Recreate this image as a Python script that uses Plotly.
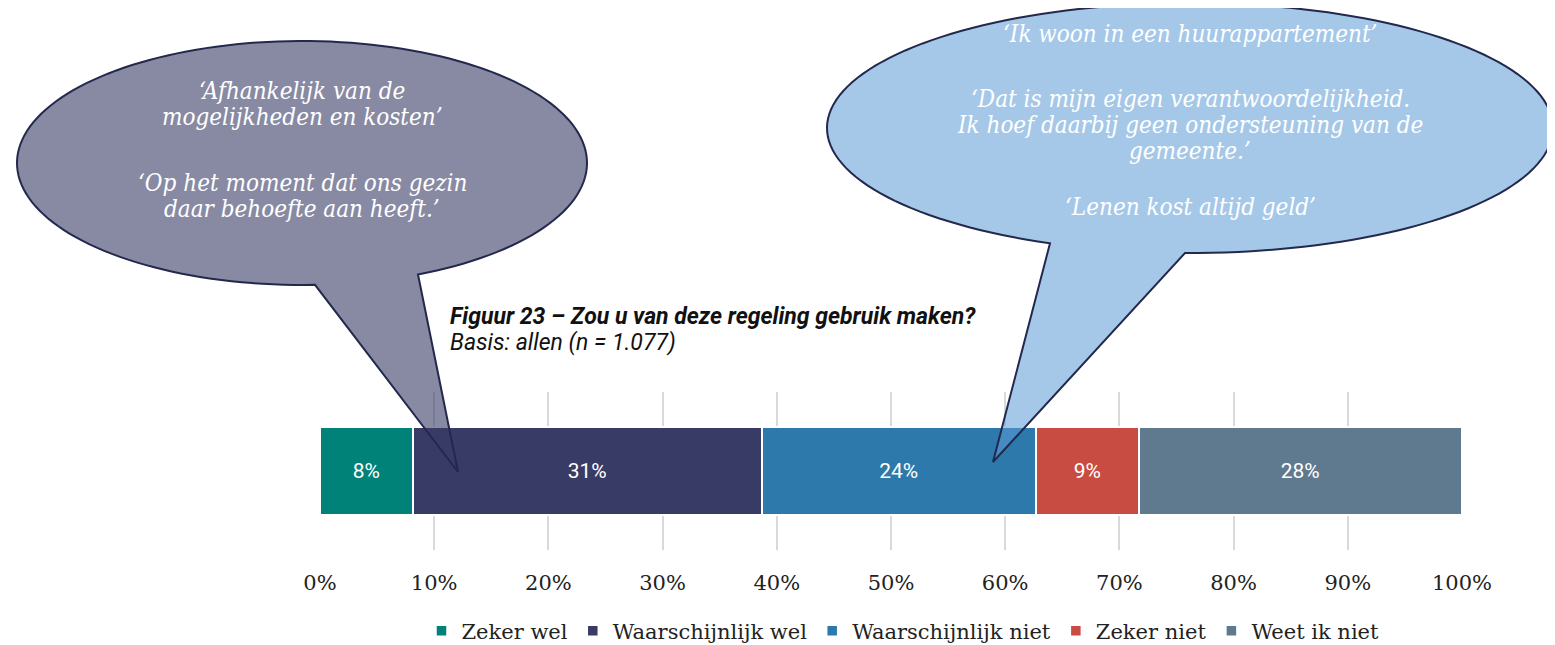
import math
import plotly.graph_objects as go

# page body has an 8px margin: figure is sized to fit the window exactly
OFF = 8
W, H = 1555 - OFF, 645 - OFF

categories = ["Zeker wel", "Waarschijnlijk wel", "Waarschijnlijk niet", "Zeker niet", "Weet ik niet"]
values = [8.1, 30.6, 24.0, 9.0, 28.3]
colors = ["#008278", "#393b67", "#2e79ab", "#c84c42", "#5f7a8e"]
tick_vals = [0, 10, 20, 30, 40, 50, 60, 70, 80, 90, 100]
tick_text = [f"{v}%" for v in tick_vals]

title_text = "<b><i>Figuur 23 – Zou u van deze regeling gebruik maken?</i></b>"
subtitle_text = "<i>Basis: allen (n = 1.077)</i>"
quote_left = ["‘Afhankelijk van de", "mogelijkheden en kosten’",
              "‘Op het moment dat ons gezin", "daar behoefte aan heeft.’"]
quote_left_y = [91, 117, 183, 209]
quote_right = ["‘Ik woon in een huurappartement’",
               "‘Dat is mijn eigen verantwoordelijkheid.",
               "Ik hoef daarbij geen ondersteuning van de", "gemeente.’",
               "‘Lenen kost altijd geld’"]
quote_right_y = [34, 99, 125, 151, 207]

QUOTE_FONT = dict(family="DejaVu Serif Condensed, DejaVu Serif", size=24, color="white")


def px(x):
    return (x - OFF) / W


def py(y):
    return 1 - (y - OFF) / H


def bubble_path(cx, cy, rx, ry, xl, xr, tip, n=160):
    tl = math.acos(max(-1, min(1, (xl - cx) / rx)))
    tr = math.acos(max(-1, min(1, (xr - cx) / rx)))
    if tl > tr:
        tl -= 2 * math.pi
    pts = []
    for i in range(n + 1):
        t = tr + (tl - tr) * i / n
        pts.append((cx + rx * math.cos(t), cy + ry * math.sin(t)))
    pts.append(tip)
    return "M " + " L ".join(f"{px(x):.5f},{py(y):.5f}" for x, y in pts) + " Z"


fig = go.Figure()
for cat, val, col in zip(categories, values, colors):
    fig.add_trace(go.Bar(
        y=[""], x=[val], name=cat, orientation="h",
        marker=dict(color=col, line=dict(color="white", width=2.5)),
        width=0.56,
        text=[f"{round(val)}%"], textposition="inside", insidetextanchor="middle",
        textangle=0,
        insidetextfont=dict(family="Roboto", size=21, color="white"),
        hoverinfo="skip",
    ))

shapes = [
    dict(type="path", xref="paper", yref="paper",
         path=bubble_path(302, 163, 285, 122, 315, 418, (458, 472)),
         fillcolor="rgba(56,60,102,0.6)", line=dict(color="#23284d", width=2),
         layer="above"),
    dict(type="path", xref="paper", yref="paper",
         path=bubble_path(1190, 128, 363, 125, 1050, 1185, (993, 462)),
         fillcolor="rgba(91,155,213,0.55)", line=dict(color="#23284d", width=2),
         layer="above"),
]

annotations = []
for line, yc in zip(quote_left, quote_left_y):
    annotations.append(dict(x=px(302), y=py(yc), xref="paper", yref="paper", showarrow=False,
                            text="<i>" + line + "</i>", align="center",
                            font=QUOTE_FONT, xanchor="center", yanchor="middle"))
for line, yc in zip(quote_right, quote_right_y):
    annotations.append(dict(x=px(1190), y=py(yc), xref="paper", yref="paper", showarrow=False,
                            text="<i>" + line + "</i>", align="center",
                            font=QUOTE_FONT, xanchor="center", yanchor="middle"))
annotations += [
    dict(x=px(448), y=py(316), xref="paper", yref="paper", showarrow=False,
         text=title_text, align="left", xanchor="left", yanchor="middle",
         font=dict(family="Roboto", size=23, color="#111111")),
    dict(x=px(448), y=py(342), xref="paper", yref="paper", showarrow=False,
         text=subtitle_text, align="left", xanchor="left", yanchor="middle",
         font=dict(family="Roboto", size=23, color="#111111")),
]

fig.update_layout(
    width=W, height=H,
    margin=dict(l=0, r=0, t=0, b=0, autoexpand=False),
    paper_bgcolor="white", plot_bgcolor="white",
    barmode="stack", bargap=0,
    showlegend=True,
    legend=dict(orientation="h", x=px(903), y=py(631), xanchor="center", yanchor="middle",
                traceorder="normal", font=dict(family="DejaVu Serif", size=21, color="#222222"),
                itemwidth=30, bgcolor="rgba(0,0,0,0)"),
    xaxis=dict(domain=[px(320), px(1462)], range=[0, 100], tickvals=tick_vals, ticktext=tick_text,
               showgrid=True, gridcolor="#d9d9d9", gridwidth=2, zeroline=False,
               showline=False, ticks="outside", ticklen=14, tickcolor="rgba(0,0,0,0)",
               tickfont=dict(family="DejaVu Serif", size=21, color="#222222"),
               automargin=False, fixedrange=True),
    yaxis=dict(domain=[py(550), py(392)], range=[-0.5, 0.5], showticklabels=False,
               showgrid=False, zeroline=False, showline=False, automargin=False, fixedrange=True),
    shapes=shapes,
    annotations=annotations,
)

fig.write_html("out.html")
